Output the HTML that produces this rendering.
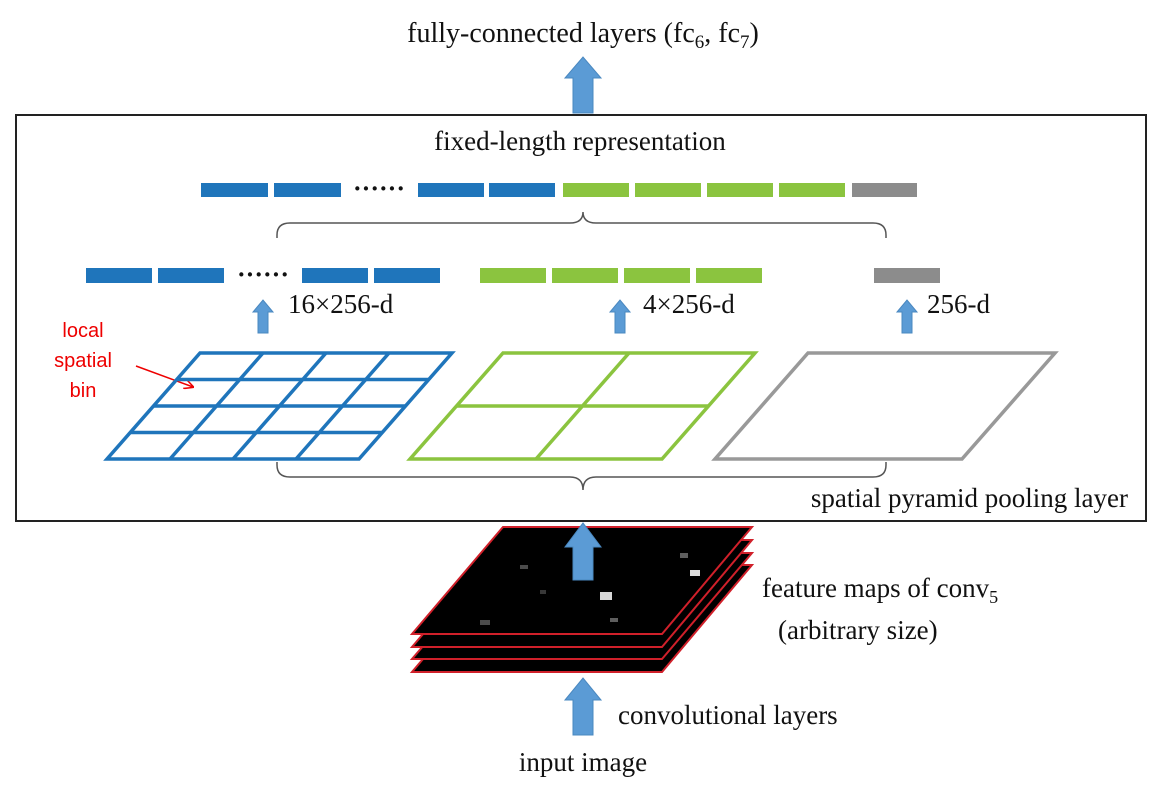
<!DOCTYPE html>
<html><head><meta charset="utf-8"><style>
html,body{margin:0;padding:0;background:#fff;}
svg text{font-family:"Liberation Serif",serif;fill:#111;}
</style></head><body>
<svg width="1170" height="800" viewBox="0 0 1170 800" xmlns="http://www.w3.org/2000/svg">
<defs>
<marker id="ra" markerWidth="10" markerHeight="10" refX="9" refY="5" orient="auto" markerUnits="userSpaceOnUse"><path d="M0,0 L10,5 L0,10" fill="none" stroke="#e00" stroke-width="1.5"/></marker>
</defs>
<text x="583" y="42" font-size="28" text-anchor="middle">fully-connected layers (fc<tspan font-size="19" dy="6">6</tspan><tspan dy="-6">, fc</tspan><tspan font-size="19" dy="6">7</tspan><tspan dy="-6">)</tspan></text>
<path d="M573,113 V78 H565 L583,57 L601,78 H593 V113 Z" fill="#5b9bd5" stroke="#4a88c0"/>
<rect x="16" y="115" width="1130" height="406" fill="none" stroke="#222" stroke-width="2"/>
<text x="580" y="150" font-size="27" text-anchor="middle">fixed-length representation</text>
<g>
<rect x="201" y="183" width="67" height="14" fill="#1f75bb"/><rect x="274" y="183" width="67" height="14" fill="#1f75bb"/>
<text x="379" y="197" font-size="26" text-anchor="middle" font-weight="bold">······</text>
<rect x="418" y="183" width="66" height="14" fill="#1f75bb"/><rect x="489" y="183" width="66" height="14" fill="#1f75bb"/>
<rect x="563" y="183" width="66" height="14" fill="#8bc43f"/><rect x="635" y="183" width="66" height="14" fill="#8bc43f"/><rect x="707" y="183" width="66" height="14" fill="#8bc43f"/><rect x="779" y="183" width="66" height="14" fill="#8bc43f"/>
<rect x="852" y="183" width="65" height="14" fill="#8c8c8c"/>
</g>
<path d="M277,238 V235 Q277,223 290,223 H570 Q583,223 583,212 Q583,223 596,223 H873 Q886,223 886,235 V238" fill="none" stroke="#555" stroke-width="1.5"/>
<g>
<rect x="86" y="268" width="66" height="15" fill="#1f75bb"/><rect x="158" y="268" width="66" height="15" fill="#1f75bb"/>
<text x="263" y="283" font-size="26" text-anchor="middle" font-weight="bold">······</text>
<rect x="302" y="268" width="66" height="15" fill="#1f75bb"/><rect x="374" y="268" width="66" height="15" fill="#1f75bb"/>
<rect x="480" y="268" width="66" height="15" fill="#8bc43f"/><rect x="552" y="268" width="66" height="15" fill="#8bc43f"/><rect x="624" y="268" width="66" height="15" fill="#8bc43f"/><rect x="696" y="268" width="66" height="15" fill="#8bc43f"/>
<rect x="874" y="268" width="66" height="15" fill="#8c8c8c"/>
</g>
<g fill="#5b9bd5" stroke="#4a88c0">
<path d="M258,333 V312 H253 L263,300 L273,312 H268 V333 Z"/>
<path d="M615,333 V312 H610 L620,300 L630,312 H625 V333 Z"/>
<path d="M902,333 V312 H897 L907,300 L917,312 H912 V333 Z"/>
</g>
<text x="288" y="313" font-size="27">16×256-d</text>
<text x="643" y="313" font-size="27">4×256-d</text>
<text x="927" y="313" font-size="27">256-d</text>
<g font-family="Liberation Sans,sans-serif" font-size="20" text-anchor="middle">
<text x="83" y="337" style="fill:#e00;font-family:'Liberation Sans',sans-serif">local</text>
<text x="83" y="367" style="fill:#e00;font-family:'Liberation Sans',sans-serif">spatial</text>
<text x="83" y="397" style="fill:#e00;font-family:'Liberation Sans',sans-serif">bin</text>
</g>
<line x1="136" y1="366" x2="193" y2="387" stroke="#e00" stroke-width="1.5" marker-end="url(#ra)"/>
<g fill="none" stroke="#1f75bb" stroke-width="3.5">
<path d="M200,353 H452 L359,459 H107 Z"/>
<path d="M177,379.5 H428.75 M153.75,406 H405.5 M130.5,432.5 H382.25"/>
<path d="M263,353 L170,459 M326,353 L233,459 M389,353 L296,459"/>
</g>
<g fill="none" stroke="#8bc43f" stroke-width="3.5">
<path d="M503,353 H755 L662,459 H410 Z"/>
<path d="M456.5,406 H708.5 M629,353 L536,459"/>
</g>
<path d="M808,353 H1055 L962,459 H715 Z" fill="none" stroke="#999" stroke-width="3.5"/>
<path d="M277,462 V465 Q277,477 290,477 H570 Q583,477 583,490 Q583,477 596,477 H873 Q886,477 886,465 V462" fill="none" stroke="#555" stroke-width="1.5"/>
<text x="1128" y="507" font-size="27" text-anchor="end">spatial pyramid pooling layer</text>
<g stroke="#d0202a" stroke-width="2" fill="#000">
<path d="M503,565 H752 L662,672 H412 Z"/>
<path d="M503,553 H752 L662,659 H412 Z"/>
<path d="M503,540 H752 L662,647 H412 Z"/>
<path d="M503,527 H752 L662,634 H412 Z"/>
</g>
<g fill="#bbb">
<rect x="600" y="592" width="12" height="8" opacity="0.9" fill="#eee"/>
<rect x="690" y="570" width="10" height="6" fill="#ddd"/>
<rect x="680" y="553" width="8" height="5" opacity="0.5"/>
<rect x="610" y="618" width="8" height="4" opacity="0.5"/>
<rect x="480" y="620" width="10" height="5" opacity="0.4"/>
<rect x="520" y="565" width="8" height="4" opacity="0.4"/>
<rect x="540" y="590" width="6" height="4" opacity="0.3"/>
</g>
<path d="M573,580 V547 H565 L583,523 L601,547 H593 V580 Z" fill="#5b9bd5" stroke="#4a88c0"/>
<text x="762" y="597" font-size="27">feature maps of conv<tspan font-size="18" dy="6">5</tspan></text>
<text x="778" y="639" font-size="27">(arbitrary size)</text>
<path d="M573,735 V700 H565 L583,678 L601,700 H593 V735 Z" fill="#5b9bd5" stroke="#4a88c0"/>
<text x="618" y="724" font-size="27">convolutional layers</text>
<text x="583" y="771" font-size="27" text-anchor="middle">input image</text>
</svg>
</body></html>
